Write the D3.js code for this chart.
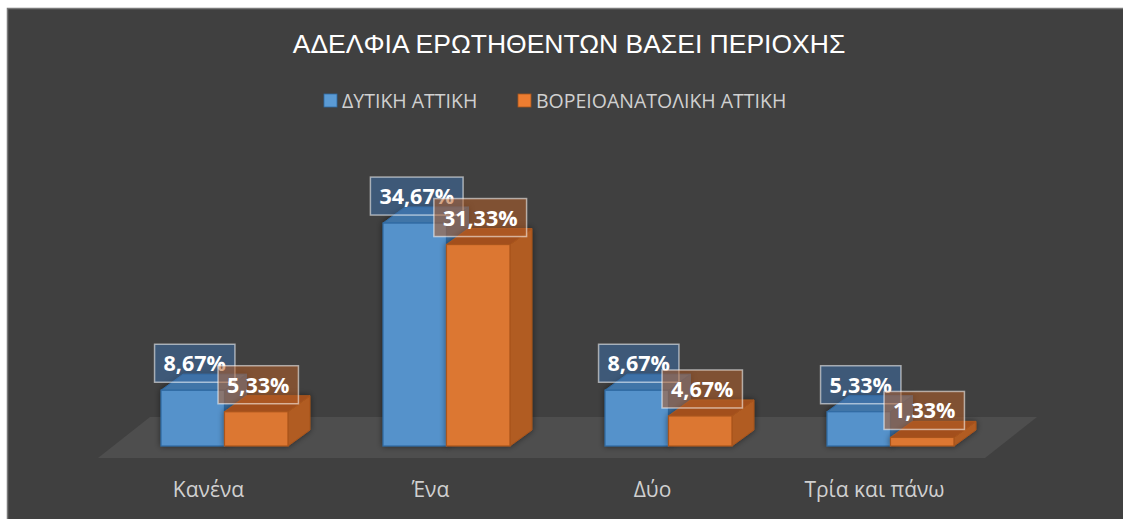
<!DOCTYPE html>
<html><head><meta charset="utf-8">
<script src="https://cdn.jsdelivr.net/npm/d3@7"></script>
<style>html,body{margin:0;padding:0;background:#fff;overflow:hidden;}svg{display:block;}</style>
</head><body>
<svg id="chart" width="1123" height="519"></svg>
<script>
const title = "ΑΔΕΛΦΙΑ ΕΡΩΤΗΘΕΝΤΩΝ ΒΑΣΕΙ ΠΕΡΙΟΧΗΣ";
const categories = ["Κανένα", "Ένα", "Δύο", "Τρία και πάνω"];
const seriesNames = ["ΔΥΤΙΚΗ ΑΤΤΙΚΗ", "ΒΟΡΕΙΟΑΝΑΤΟΛΙΚΗ ΑΤΤΙΚΗ"];
const westValues = [8.67, 34.67, 8.67, 5.33];
const northEastValues = [5.33, 31.33, 4.67, 1.33];

const seriesStyle = [
  {front:"#5592cb", top:"#3f74a8", side:"#3b6c9c", stroke:"#2f6aa3", labelFill:"rgba(60,110,165,0.55)", legend:"#5b9bd5"},
  {front:"#dc7733", top:"#a3501b", side:"#b15b20", stroke:"#a9551c", labelFill:"rgba(180,95,40,0.55)", legend:"#ed7d31"}
];
const series = [westValues, northEastValues];

const svg = d3.select("#chart");
const defs = svg.append("defs");
const f = defs.append("filter").attr("id","sh").attr("x","-30%").attr("y","-30%").attr("width","160%").attr("height","160%");
f.append("feGaussianBlur").attr("in","SourceAlpha").attr("stdDeviation",3).attr("result","b");
f.append("feComponentTransfer").attr("in","b").attr("result","t").append("feFuncA").attr("type","linear").attr("slope",0.5);
const m = f.append("feMerge"); m.append("feMergeNode").attr("in","t"); m.append("feMergeNode").attr("in","SourceGraphic");

// background
svg.append("rect").attr("x",7.5).attr("y",8.5).attr("width",1130).attr("height",520)
  .attr("fill","#404040").attr("stroke","#7a7a7a").attr("stroke-width",1.5);

// title
svg.append("text").attr("x",569).attr("y",53).attr("text-anchor","middle")
  .attr("font-family","Liberation Sans, Arial, sans-serif").attr("font-size",26.5)
  .attr("fill","#ffffff").text(title);

// legend
const legendX = [324, 518];
seriesNames.forEach((n,i)=>{
  svg.append("rect").attr("x",legendX[i]).attr("y",94).attr("width",13).attr("height",13)
    .attr("fill",seriesStyle[i].legend).attr("stroke",seriesStyle[i].stroke).attr("stroke-width",0.8);
  svg.append("text").attr("x",legendX[i]+18).attr("y",108)
    .attr("font-family","Open Sans, sans-serif").attr("font-size",19.5)
    .attr("fill","#d0d0d0").text(n);
});

// scales
const baseY = 446, dx = 22, dy = 16;
const x = d3.scaleBand().domain(categories).range([113.5, 1001.5]).paddingInner(0.428).paddingOuter(0.214);
const xs = d3.scaleBand().domain(d3.range(series.length)).range([0, x.bandwidth()]);
const y = d3.scaleLinear().domain([0, 40]).range([baseY, baseY - 40*6.43]);

// floor
const floorPts = [[150,417],[1037,417],[985,458],[98,458]];
svg.append("polygon").attr("points", floorPts.map(p=>p.join(",")).join(" ")).attr("fill","#4e4e4e");

// bars
const barsG = svg.append("g");
categories.forEach((c,ci)=>{
  series.forEach((vals,si)=>{
    const st = seriesStyle[si];
    const x0 = x(c) + xs(si), w = xs.bandwidth(), yt = y(vals[ci]);
    const g = barsG.append("g").attr("filter","url(#sh)");
    g.append("polygon").attr("points",[[x0+w,yt],[x0+w+dx,yt-dy],[x0+w+dx,baseY-dy],[x0+w,baseY]].map(p=>p.join(",")).join(" "))
      .attr("fill",st.side).attr("stroke",st.stroke).attr("stroke-width",1);
    g.append("polygon").attr("points",[[x0,yt],[x0+dx,yt-dy],[x0+w+dx,yt-dy],[x0+w,yt]].map(p=>p.join(",")).join(" "))
      .attr("fill",st.top).attr("stroke",st.stroke).attr("stroke-width",1);
    g.append("rect").attr("x",x0).attr("y",yt).attr("width",w).attr("height",baseY-yt)
      .attr("fill",st.front).attr("stroke",st.stroke).attr("stroke-width",1.2);
  });
});

// data labels
const fmt = v => v.toFixed(2).replace(".", ",") + "%";
const labG = svg.append("g");
categories.forEach((c,ci)=>{
  series.forEach((vals,si)=>{
    const st = seriesStyle[si];
    const cx = x(c) + xs(si) + xs.bandwidth()/2 + 2;
    const cy = y(vals[ci]) - 27;
    const g = labG.append("g");
    const r = g.append("rect");
    const t = g.append("text").attr("x",cx).attr("y",cy+8).attr("text-anchor","middle")
      .attr("font-family","Open Sans, sans-serif").attr("font-weight","bold").attr("font-size",21.5)
      .attr("fill","#ffffff").text(fmt(vals[ci]));
    const tw = t.node().getComputedTextLength();
    const bw = tw + 18, bh = 38;
    r.attr("x",cx-bw/2).attr("y",cy-bh/2).attr("width",bw).attr("height",bh)
      .attr("fill",st.labelFill).attr("stroke","rgba(255,255,255,0.55)").attr("stroke-width",1.5);
  });
});

// category labels
categories.forEach(c=>{
  svg.append("text").attr("x", x(c)+x.bandwidth()/2 - 16).attr("y",497).attr("text-anchor","middle")
    .attr("font-family","Open Sans, sans-serif").attr("font-size",21)
    .attr("fill","#d0d0d0").text(c);
});
</script>
</body></html>
